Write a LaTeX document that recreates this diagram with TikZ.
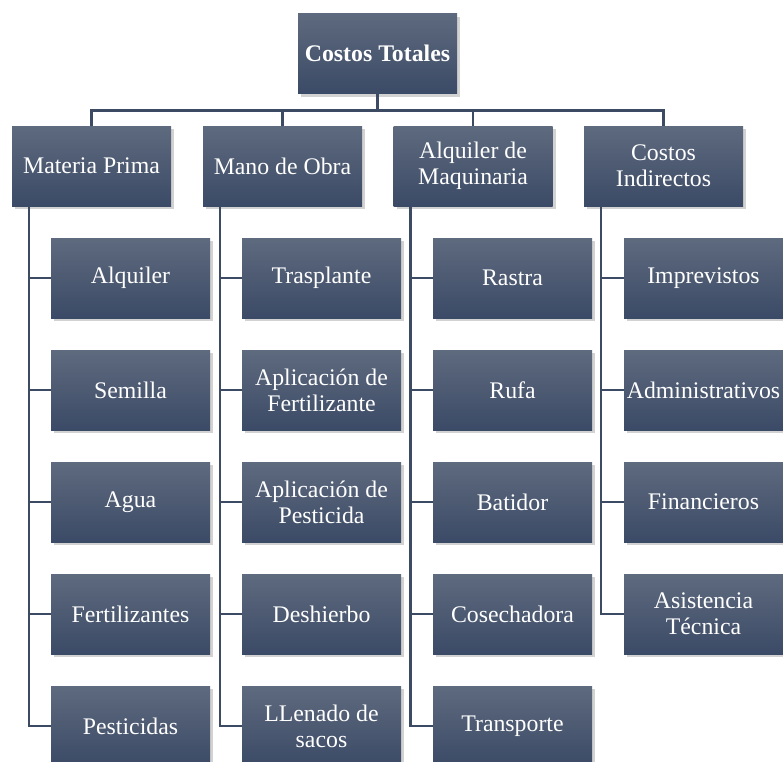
\documentclass[tikz,border=0pt]{standalone}
\usepackage{fontspec}
\setmainfont{Liberation Serif}
\usetikzlibrary{shadows}
\definecolor{cajaarriba}{RGB}{94,106,126}
\definecolor{cajaabajo}{RGB}{59,74,102}
\definecolor{linea}{RGB}{60,74,99}
\tikzset{
  caja/.style={top color=cajaarriba, bottom color=cajaabajo, text=white,
    minimum width=159pt, minimum height=80pt, inner sep=0pt, align=center,
    font=\fontsize{23.8}{26}\selectfont,
    drop shadow={shadow xshift=3pt, shadow yshift=-3pt, opacity=0.35}},
  rama/.style={draw=linea, line width=2.6pt}
}
\begin{document}
\begin{tikzpicture}[x=1pt,y=-1pt]
  \useasboundingbox[fill=white] (0,0) rectangle (783,761);
  % nivel superior
  \node[caja, font=\fontsize{23.8}{26}\selectfont\bfseries] (total) at (377.5,53.5) {Costos Totales};
  % rubros
  \node[caja] (mp) at (91.5,166) {Materia Prima};
  \node[caja] (mo) at (282.5,166) {Mano de Obra};
  \node[caja] (am) at (473,166) {Alquiler de\\Maquinaria};
  \node[caja] (ci) at (663.5,166) {Costos\\Indirectos};
  \foreach \r in {mp,mo,am,ci}
    \draw[rama] (total.south) -- ++(0,16.5) -| (\r.north);
  % detalle de cada rubro
  \foreach \txt [count=\i] in {Alquiler, Semilla, Agua, Fertilizantes, Pesticidas} {
    \node[caja] (mp\i) at (130.5,{166+112*\i}) {\txt};
    \draw[rama] ([xshift=17pt]mp.south west) |- (mp\i.west);
  }
  \foreach \txt [count=\i] in {Trasplante, {Aplicación de\\Fertilizante},
      {Aplicación de\\Pesticida}, Deshierbo, {LLenado de\\sacos}} {
    \node[caja] (mo\i) at (321.5,{166+112*\i}) {\txt};
    \draw[rama] ([xshift=17pt]mo.south west) |- (mo\i.west);
  }
  \foreach \txt [count=\i] in {Rastra, Rufa, Batidor, Cosechadora, Transporte} {
    \node[caja] (am\i) at (512.5,{166+112*\i}) {\txt};
    \draw[rama] ([xshift=17pt]am.south west) |- (am\i.west);
  }
  \foreach \txt [count=\i] in {Imprevistos, Administrativos, Financieros,
      {Asistencia\\Técnica}} {
    \node[caja] (ci\i) at (703.5,{166+112*\i}) {\txt};
    \draw[rama] ([xshift=17pt]ci.south west) |- (ci\i.west);
  }
\end{tikzpicture}
\end{document}
